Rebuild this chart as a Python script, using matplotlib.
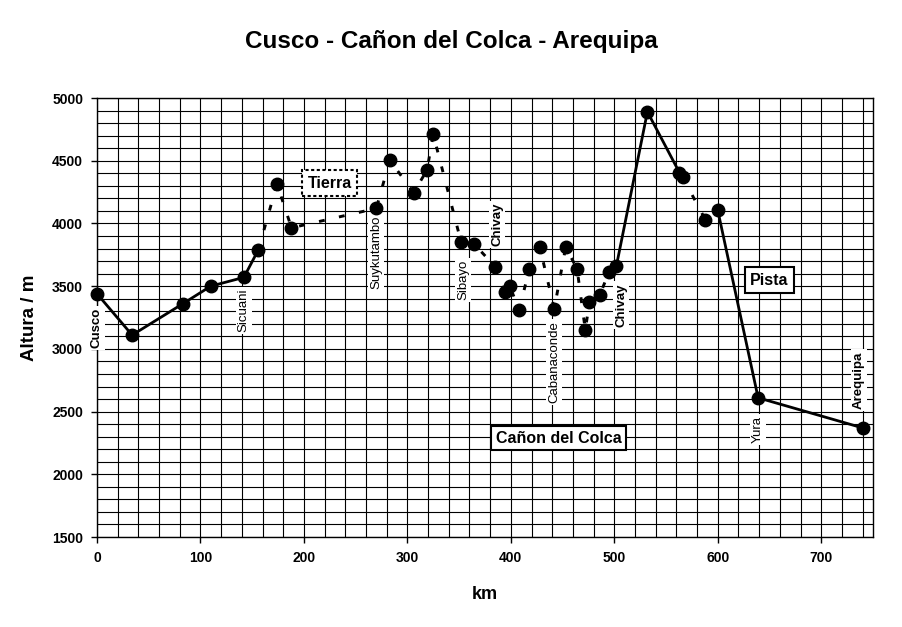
import matplotlib
matplotlib.use("Agg")
import matplotlib.pyplot as plt
from matplotlib.ticker import MultipleLocator

plt.rcParams['font.family'] = ['Liberation Sans', 'DejaVu Sans']

# Ruta: km recorridos y altura (m)
km = [0, 34, 83, 110, 142, 156, 174, 188, 270, 283, 306, 319, 325, 352, 364,
      385, 394, 399, 408, 418, 428, 442, 453, 464, 472, 476, 486, 495, 502,
      532, 563, 566, 588, 600, 639, 740]
alt = [3440, 3110, 3360, 3500, 3570, 3790, 4315, 3965, 4120, 4505, 4245, 4425,
       4710, 3850, 3840, 3655, 3450, 3500, 3310, 3640, 3810, 3320, 3810, 3640,
       3150, 3375, 3430, 3615, 3660, 4890, 4405, 4370, 4030, 4105, 2610, 2370]

# tramos de tierra (km inicio, km fin)
tierra = [(156, 502), (566, 600)]

# lugares: nombre, indice del punto, negrita
lugares = ["Cusco", "Sicuani", "Suykutambo", "Sibayo", "Chivay",
           "Cabanaconde", "Chivay", "Yura", "Arequipa"]
lugar_idx = [0, 4, 8, 13, 15, 21, 28, 34, 35]
lugar_bold = [True, False, False, False, True, False, True, False, True]
# desplazamiento de las etiquetas en pixeles (x, y)
lugar_off = [(0, -34), (0, -33), (0, -44), (2, -38), (2, 42),
             (0, -53), (5, -39), (0, -32), (-4, 48)]


def es_tierra(a, b):
    return any(t0 <= a and b <= t1 for t0, t1 in tierra)


fig = plt.figure(figsize=(9.02, 6.27), dpi=100)
ax = fig.add_axes([0.1075, 0.1435, 0.8603, 0.7002])

# agrupar segmentos consecutivos del mismo tipo
runs = []
for i in range(len(km) - 1):
    t = es_tierra(km[i], km[i + 1])
    if runs and runs[-1][0] == t:
        runs[-1][1].append(i + 1)
    else:
        runs.append([t, [i, i + 1]])

for t, idx in runs:
    xs = [km[j] for j in idx]
    ys = [alt[j] for j in idx]
    if t:
        ax.plot(xs, ys, color="black", linewidth=2.1, dashes=(2, 5), zorder=3)
    else:
        ax.plot(xs, ys, color="black", linewidth=2.0, zorder=3)

ax.plot(km, alt, linestyle="none", marker="o", markersize=9,
        color="black", zorder=4, clip_on=False)

for name, i, b, off in zip(lugares, lugar_idx, lugar_bold, lugar_off):
    ax.annotate(name, (km[i], alt[i]), xytext=off, textcoords="offset pixels",
                rotation=90, ha="center", va="center", fontsize=9.5,
                fontweight="bold" if b else "normal", zorder=2.7,
                bbox=dict(boxstyle="square,pad=0.15", fc="white", ec="none"))

ax.text(225, 4322, "Tierra", ha="center", va="center", fontsize=11.5,
        fontweight="bold", zorder=5,
        bbox=dict(boxstyle="square,pad=0.35", fc="white", ec="black",
                  lw=1.5, linestyle=(0, (1.5, 1.2))))
ax.text(650, 3549, "Pista", ha="center", va="center", fontsize=11.5,
        fontweight="bold", zorder=5,
        bbox=dict(boxstyle="square,pad=0.35", fc="white", ec="black", lw=1.5))
ax.text(446, 2289, "Cañon del Colca", ha="center", va="center", fontsize=11.5,
        fontweight="bold", zorder=5,
        bbox=dict(boxstyle="square,pad=0.3", fc="white", ec="black", lw=1.5))

ax.set_xlim(0, 750)
ax.set_ylim(1500, 5000)
ax.xaxis.set_major_locator(MultipleLocator(100))
ax.xaxis.set_minor_locator(MultipleLocator(20))
ax.yaxis.set_major_locator(MultipleLocator(500))
ax.yaxis.set_minor_locator(MultipleLocator(100))
ax.grid(True, which="both", color="black", linewidth=0.8)
ax.set_axisbelow(True)
ax.tick_params(which="major", direction="out", length=4, width=1,
               labelsize=10, pad=6)
ax.tick_params(which="minor", length=0)
for lab in ax.get_xticklabels() + ax.get_yticklabels():
    lab.set_fontweight("bold")
for s in ax.spines.values():
    s.set_linewidth(1)

ax.set_xlabel("km", fontsize=13, fontweight="bold", labelpad=15)
ax.set_ylabel("Altura / m", fontsize=13.5, fontweight="bold", labelpad=10)
fig.suptitle("Cusco - Cañon del Colca - Arequipa", fontsize=17.5,
             fontweight="bold", y=0.952)

plt.savefig("out.png", dpi=100)
